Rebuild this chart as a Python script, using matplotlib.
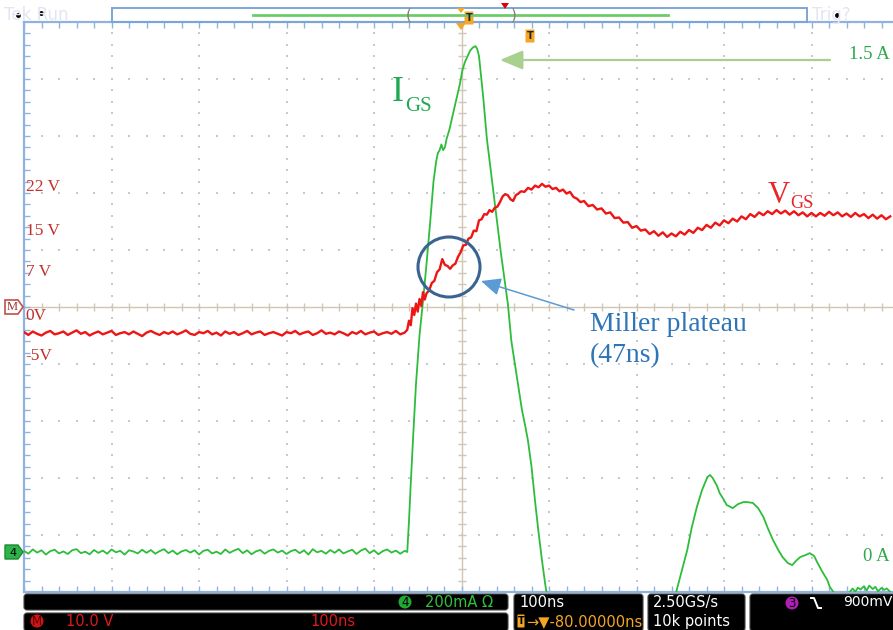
import numpy as np
import matplotlib
matplotlib.use('Agg')
import matplotlib.pyplot as plt
from matplotlib.patches import FancyBboxPatch, Ellipse, Polygon, Circle

# ---------------- data ----------------
# time in ns (100 ns/div, trigger at centre), VGS in V (10 V/div), IGS in A (200 mA/div)
vgs_base_t0, vgs_base_dt = -500, 5
vgs_base = [-4.4,-4.9,-4.3,-4.7,-5.0,-4.5,-4.2,-4.8,-4.6,-4.3,
            -4.9,-4.5,-4.1,-4.7,-4.4,-5.0,-4.6,-4.3,-4.8,-4.5,
            -4.2,-4.9,-4.6,-4.4,-4.8,-4.3,-4.7,-5.1,-4.5,-4.2,
            -4.6,-4.9,-4.4,-4.7,-4.3,-4.8,-4.5,-4.1,-4.7,-4.9,
            -4.4,-4.6,-4.2,-4.8,-4.5,-5.0,-4.3,-4.7,-4.4,-4.9,
            -4.6,-4.2,-4.8,-4.5,-4.3,-4.9,-4.6,-4.4,-4.7,-5.0,
            -4.4,-4.6,-4.2,-4.8,-4.5,-4.3,-4.9,-4.6,-4.1,-4.7,
            -4.5,-4.8,-4.3,-4.6,-5.0,-4.4,-4.7,-4.2,-4.8,-4.5,
            -4.3,-4.9,-4.6,-4.4,-4.7,-4.2,-4.8,-4.5]
vgs_edge_t = [-62,-60,-58,-56,-54,-52,-50,-48,-46,-44,-42,-40,-37,-34,-31,-28,-25,-22,
              -19,-16,-13,-10,-7,-4,-1,2,5,8,11,14,17,20,23,26,29,32,35,38,41,44,47,50,
              53,56,59,62,65,68,72,76,80,84,88,92,96,100,104,108,112,116,120,124,128,132,136]
vgs_edge_v = [-4.0,-2.4,-3.2,-0.2,-1.4,0.6,-0.8,1.4,0.2,2.6,1.3,2.4,2.9,4.2,4.6,6.1,6.6,8.4,
              7.4,7.2,6.7,7.3,7.6,8.8,9.6,10.8,10.9,12.0,12.2,13.4,13.3,15.2,15.4,16.3,16.2,
              17.0,16.7,17.4,17.6,18.4,19.4,19.8,19.6,18.9,18.6,19.6,19.9,20.3,20.2,20.9,20.6,
              21.3,21.0,21.6,21.1,21.3,20.7,20.9,20.3,20.6,19.9,20.2,19.3,19.0,18.4]
vgs_tail_t0, vgs_tail_dt = 140, 5
vgs_tail = [18.6,17.7,17.9,17.1,17.3,16.4,16.6,15.6,15.7,14.8,
            14.9,13.9,14.2,13.4,13.6,12.8,13.3,12.5,13.1,12.3,
            12.9,12.4,13.2,12.7,13.5,13.0,13.9,13.5,14.4,13.9,
            14.8,14.3,15.2,14.7,15.5,15.0,15.9,15.4,16.3,15.8,
            16.6,16.1,16.8,16.3,17.0,16.4,16.9,16.2,16.8,16.1,
            16.6,15.9,16.5,15.9,16.5,16.0,16.7,16.1,16.6,15.9,
            16.4,15.8,16.5,15.9,16.3,15.6,16.2,15.5,16.1,15.4,15.9]

igs_base_t0, igs_base_dt = -500, 5
igs_base = [0.004,-0.006,0.009,-0.002,0.006,-0.009,0.003,0.008,-0.005,0.002,
            -0.007,0.006,0.010,-0.004,0.001,-0.008,0.007,-0.003,0.005,-0.006,
            0.009,-0.001,0.004,-0.009,0.006,0.002,-0.005,0.008,-0.003,0.007,
            -0.006,0.003,0.010,-0.004,0.005,-0.008,0.002,0.007,-0.002,0.006,
            -0.009,0.004,0.008,-0.005,0.001,-0.007,0.009,-0.003,0.005,0.011,
            -0.004,0.006,-0.008,0.002,0.007,-0.006,0.004,0.009,-0.002,0.005,
            -0.007,0.003,0.008,-0.004,0.006,-0.009,0.010,-0.001,0.004,-0.006,
            0.007,-0.003,0.009,-0.005,0.002,0.008,-0.007,0.005,0.012,-0.004,
            0.006,-0.008,0.003,0.009,-0.002,0.005,-0.006,0.004]
igs_t = [-62,-60,-58,-55,-52,-48,-44,-40,-36,-32,-29,-27,-25,-23,-21,-19,-17,-14,-11,-8,
         -5,-2,1,4,7,10,13,16,18,20,22,25,29,33,37,41,45,49,53,57,61,65,69,73,76,80,84,
         88,92,96,100,104,110,150,200,240,
         246,252,258,263,269,275,281,284,287,292,295,300,303,310,316,322,327,333,339,345,
         350,356,362,367,373,378,382,387,393,398,403,407,412,418,421,425,430,436,441,
         447,450,453,456,460,463,466,470,473,476,480,483,486,490,494]
igs_i = [0.0,0.11,0.24,0.42,0.59,0.76,0.88,1.01,1.15,1.30,1.37,1.40,1.41,1.43,1.41,1.42,
         1.45,1.48,1.52,1.56,1.60,1.64,1.69,1.72,1.74,1.76,1.77,1.775,1.765,1.74,1.68,1.59,
         1.45,1.35,1.25,1.15,1.05,0.96,0.87,0.74,0.66,0.58,0.50,0.44,0.39,0.30,0.18,0.07,
         -0.03,-0.12,-0.19,-0.28,-0.40,-0.55,-0.50,-0.25,
         -0.133,-0.063,0.007,0.084,0.158,0.218,0.263,0.270,0.260,0.232,0.207,0.182,0.165,
         0.154,0.168,0.175,0.175,0.172,0.154,0.123,0.084,0.042,0.007,-0.018,-0.039,-0.046,
         -0.032,-0.018,-0.011,-0.004,-0.014,-0.039,-0.067,-0.098,-0.123,-0.140,-0.170,
         -0.160,-0.150,
         -0.128,-0.140,-0.125,-0.132,-0.120,-0.135,-0.118,-0.130,-0.122,-0.138,-0.126,
         -0.133,-0.128,-0.140,-0.150]

volt_labels = ['22 V', '15 V', '7 V', '0V', '-5V']
volt_label_pos = [21.0, 13.3, 6.1, -1.6, -8.6]

ns_per_div, v_per_div, a_per_div = 100, 10, 0.2

# ---------------- assemble traces ----------------
vgs_t = np.concatenate([vgs_base_t0 + vgs_base_dt * np.arange(len(vgs_base)),
                        vgs_edge_t,
                        vgs_tail_t0 + vgs_tail_dt * np.arange(len(vgs_tail))])
vgs_v = np.concatenate([vgs_base, vgs_edge_v, vgs_tail])
igs_tt = np.concatenate([igs_base_t0 + igs_base_dt * np.arange(len(igs_base)), igs_t])
igs_ii = np.concatenate([igs_base, igs_i])

# ---------------- figure ----------------
W, H = 893, 630
fig = plt.figure(figsize=(W / 100, H / 100), dpi=100)
fig.patch.set_facecolor('white')

L, T, B = 24, 22, 592
div_px_x = 87.5
t_left = -5 * ns_per_div
t_right = t_left + (W - L) / div_px_x * ns_per_div
ax = fig.add_axes([L / W, (H - B) / H, (W - L) / W, (B - T) / H])
ax.set_xlim(t_left, t_right)
ax.set_ylim(-5 * v_per_div, 5 * v_per_div)
border = '#8fb3de'
for s in ['left', 'top', 'bottom']:
    ax.spines[s].set_color(border)
    ax.spines[s].set_linewidth(1.6)
ax.spines['right'].set_visible(False)
ax.set_xticks(np.arange(t_left, t_right, ns_per_div / 5))
ax.set_yticks(np.arange(-5 * v_per_div, 5 * v_per_div, v_per_div / 5))
ax.tick_params(direction='in', length=4, width=1, color=border, top=True, bottom=True,
               left=True, right=False, labelbottom=False, labelleft=False)

# dotted graticule
gdot = '#c9c9c9'
xmaj = [k * ns_per_div for k in range(-4, 5) if k != 0]
ymaj = [k * v_per_div for k in range(-4, 5) if k != 0]
yminor = np.arange(-5 * v_per_div, 5 * v_per_div + 0.1, v_per_div / 5)
xminor = np.arange(t_left, t_right, ns_per_div / 5)
gx = np.repeat(xmaj, len(yminor)); gy = np.tile(yminor, len(xmaj))
ax.scatter(gx, gy, s=1.2, c=gdot, marker='s', linewidths=0, zorder=1)
hx = np.tile(xminor, len(ymaj)); hy = np.repeat(ymaj, len(xminor))
ax.scatter(hx, hy, s=1.2, c=gdot, marker='s', linewidths=0, zorder=1)
# centre cross with ticks
cc = '#cfc6b4'
ax.axhline(0, color=cc, lw=1.0, zorder=1.5)
ax.axvline(0, color=cc, lw=1.0, zorder=1.5)
ax.plot(xminor, np.zeros_like(xminor), ls='none', marker='|', ms=6, mew=1.0, color=cc, zorder=1.5)
ax.plot(np.zeros_like(yminor), yminor, ls='none', marker='_', ms=6, mew=1.0, color=cc, zorder=1.5)

# current channel
axg = ax.twinx()
i_zero_frac = (B - 552) / (B - T)
i_lo = -i_zero_frac * 10 * a_per_div
axg.set_ylim(i_lo, i_lo + 10 * a_per_div)
axg.axis('off')
axg.plot(igs_tt, igs_ii, color='#2dbd3a', lw=1.3)

# voltage channel on top
axr = ax.twinx()
axr.set_ylim(-5 * v_per_div, 5 * v_per_div)
axr.axis('off')
axr.plot(vgs_t, vgs_v, color='#ee1515', lw=1.7)

serif = 'Liberation Serif'
for lab, v in zip(volt_labels, volt_label_pos):
    axr.text(t_left + 2, v, lab, family=serif, fontsize=12.5, color='#c0302a',
             va='center', ha='left')

# ---------------- overlay (pixel coordinates) ----------------
ov = fig.add_axes([0, 0, 1, 1], zorder=10)
ov.set_xlim(0, W); ov.set_ylim(H, 0); ov.axis('off'); ov.patch.set_alpha(0)

# top record bar
ov.text(4, 15, 'Tek Run', fontsize=12, color='#e4e4f2', va='center', ha='left')
ov.plot([18, 41], [15, 13], ls='none', marker='o', ms=2.5, color='black')
ov.text(812, 15, 'Trig?', fontsize=12, color='#e4e4f2', va='center', ha='left')
ov.plot([837], [15], ls='none', marker='o', ms=2.5, color='black')
ov.add_patch(plt.Rectangle((112, 8), 695, 14, fill=False, ec='#7aa6d6', lw=1.4))
ov.plot([253, 668], [15, 15], color='#6ccc6c', lw=2)
ov.text(409, 15, '(', fontsize=11, color='#8a7f6e', ha='center', va='center')
ov.text(514, 15, ')', fontsize=11, color='#8a7f6e', ha='center', va='center')
ov.add_patch(Polygon([[457, 8], [465, 8], [461, 13]], closed=True, fc='#f5a623', ec='none'))
ov.add_patch(Polygon([[501, 3], [509, 3], [505, 9]], closed=True, fc='#e00000', ec='none'))
ov.add_patch(Polygon([[456, 23], [466, 23], [461, 30]], closed=True, fc='#f5a623', ec='none'))
for (cx, cy) in [(469, 18), (530, 36)]:
    ov.add_patch(FancyBboxPatch((cx - 4, cy - 6), 8, 12, boxstyle='round,pad=0.5',
                                fc='#f5a623', ec='none'))
    ov.text(cx, cy, 'T', fontsize=7, weight='bold', color='#222222', ha='center', va='center')

# channel badges on the left
ov.add_patch(Polygon([[5, 300], [18, 300], [23, 307], [18, 314], [5, 314]], closed=True,
                     fc='white', ec='#c0504d', lw=1.2))
ov.text(12.5, 307.5, 'M', family=serif, fontsize=9, color='#a0302a', ha='center', va='center')
ov.add_patch(Polygon([[5, 545], [18, 545], [23, 552], [18, 559], [5, 559]], closed=True,
                     fc='#2db34a', ec='#1a8a30', lw=1))
ov.text(12.5, 552.5, '4', fontsize=8, color='black', ha='center', va='center')

# annotations
ov.text(392, 101, 'I', family=serif, fontsize=26, color='#22a852', ha='left', va='baseline')
ov.text(405, 111, 'GS', family=serif, fontsize=15, color='#22a852', ha='left', va='baseline')
ov.text(768, 203, 'V', family=serif, fontsize=22, color='#e8262a', ha='left', va='baseline')
ov.text(790, 208, 'GS', family=serif, fontsize=13, color='#e8262a', ha='left', va='baseline')
ov.text(849, 59, '1.5 A', family=serif, fontsize=13.5, color='#2ca84e', ha='left', va='baseline')
ov.text(863, 561, '0 A', family=serif, fontsize=13.5, color='#2ca84e', ha='left', va='baseline')
ov.text(590, 331, 'Miller plateau', family=serif, fontsize=20, color='#2e75b6', ha='left', va='baseline')
ov.text(590, 362, '(47ns)', family=serif, fontsize=20, color='#2e75b6', ha='left', va='baseline')

ov.annotate('', xy=(500, 60), xytext=(830, 60),
            arrowprops=dict(arrowstyle='-|>,head_length=1.0,head_width=0.42', mutation_scale=14,
                            color='#a9d08e', lw=1.6, shrinkA=0, shrinkB=0))
ov.annotate('', xy=(481, 281), xytext=(574, 310),
            arrowprops=dict(arrowstyle='-|>,head_length=1.0,head_width=0.45', mutation_scale=12,
                            color='#5b9bd5', lw=1.1, shrinkA=0, shrinkB=0))
ov.add_patch(Ellipse((449, 267), 62, 60, fill=False, ec='#3a6391', lw=2.2))

# status bar
sfont = ['Liberation Sans Narrow', 'DejaVu Sans']
def box(x0, y0, x1, y1):
    ov.add_patch(FancyBboxPatch((x0 + 3, y0 + 3), x1 - x0 - 6, y1 - y0 - 6,
                                boxstyle='round,pad=3', fc='black', ec='#444444', lw=0.8))
box(24, 594, 508, 610)
box(24, 613, 508, 631)
box(514, 594, 643, 631)
box(648, 594, 745, 631)
box(750, 594, 900, 631)

ov.add_patch(Circle((405, 602), 6.5, fc='#21a834', ec='none'))
ov.text(405, 602.5, '4', family=sfont, fontsize=8.5, color='black', ha='center', va='center')
ov.text(425, 602.5, '200mA Ω', family=sfont, fontsize=10.5, color='#31c03a', ha='left', va='center')
ov.add_patch(Circle((37, 621), 6.5, fc='#d01515', ec='none'))
ov.text(37, 621.5, 'M', family=sfont, fontsize=8.5, color='#5a0000', ha='center', va='center')
ov.text(66, 621.5, '10.0 V', family=sfont, fontsize=10.5, color='#e01a1a', ha='left', va='center')
ov.text(310, 621.5, '100ns', family=sfont, fontsize=10.5, color='#e01a1a', ha='left', va='center')
ov.text(519, 602.5, '100ns', family=sfont, fontsize=10.5, color='white', ha='left', va='center')
ov.add_patch(FancyBboxPatch((518, 615), 6, 12, boxstyle='round,pad=0.5', fc='#f5a623', ec='none'))
ov.text(521, 621, 'T', fontsize=7, weight='bold', color='black', ha='center', va='center')
ov.text(526, 621.5, '→▼-80.00000ns', family=sfont, fontsize=10.5, color='#f5a623', ha='left', va='center')
ov.text(653, 602.5, '2.50GS/s', family=sfont, fontsize=10.5, color='white', ha='left', va='center')
ov.text(653, 621.5, '10k points', family=sfont, fontsize=10.5, color='white', ha='left', va='center')
ov.add_patch(Circle((792, 603), 6.5, fc='#b01fb4', ec='none'))
ov.text(792, 603.5, '3', family=sfont, fontsize=8.5, color='black', ha='center', va='center')
ov.plot([811, 814, 818, 821], [598, 598, 608, 608], color='white', lw=1.4)
ov.text(843, 602.5, '900mV', family=sfont, fontsize=10, color='white', ha='left', va='center')

fig.savefig('out.png', dpi=100)
